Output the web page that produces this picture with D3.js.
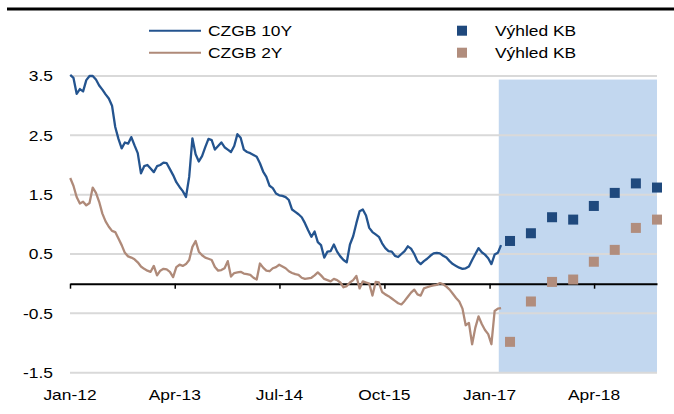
<!DOCTYPE html>
<html>
<head>
<meta charset="utf-8">
<script src="https://cdn.jsdelivr.net/npm/d3@7/dist/d3.min.js"></script>
<style>
  html, body { margin: 0; padding: 0; background: #ffffff; }
  svg { display: block; font-family: "Liberation Sans", Arial, sans-serif; }
</style>
</head>
<body>
<svg id="chart" width="674" height="414"></svg>
<script>
// ---------------- DATA ----------------
const seriesNames = ["CZGB 10Y", "CZGB 2Y"];
const forecastNames = ["Výhled KB", "Výhled KB"];
const seriesStart = "2012-01-02";   // first observation, fortnightly steps
const seriesStepDays = 14;

const czgb10y = [
  3.52, 3.47, 3.20, 3.28, 3.24, 3.43, 3.50, 3.50, 3.44, 3.34,
  3.27, 3.19, 3.12, 3.00, 2.64, 2.44, 2.28, 2.38, 2.36, 2.47,
  2.33, 2.20, 1.86, 1.98, 2.00, 1.94, 1.88, 1.98, 2.00, 2.04,
  2.03, 1.93, 1.83, 1.71, 1.63, 1.56, 1.46, 1.80, 2.45, 2.18,
  2.06, 2.15, 2.30, 2.44, 2.42, 2.26, 2.32, 2.38, 2.30, 2.26,
  2.22, 2.32, 2.52, 2.46, 2.26, 2.22, 2.20, 2.17, 2.14, 2.03,
  1.89, 1.80, 1.65, 1.61, 1.52, 1.49, 1.48, 1.46, 1.41, 1.25,
  1.21, 1.17, 1.12, 1.02, 0.90, 0.79, 0.88, 0.70, 0.65, 0.44,
  0.54, 0.55, 0.66, 0.54, 0.46, 0.40, 0.36, 0.66, 0.80, 1.02,
  1.22, 1.25, 1.15, 0.94, 0.87, 0.83, 0.79, 0.68, 0.60, 0.55,
  0.54, 0.47, 0.45, 0.50, 0.55, 0.63, 0.59, 0.50, 0.38, 0.33,
  0.38, 0.42, 0.47, 0.51, 0.52, 0.51, 0.47, 0.44, 0.38, 0.33,
  0.30, 0.27, 0.25, 0.26, 0.29, 0.40, 0.50, 0.60, 0.53, 0.49,
  0.43, 0.33, 0.49, 0.52, 0.65
];

const czgb2y = [
  1.78, 1.65, 1.46, 1.35, 1.38, 1.32, 1.36, 1.62, 1.53, 1.38,
  1.18, 1.05, 0.96, 0.89, 0.87, 0.76, 0.65, 0.52, 0.46, 0.44,
  0.41, 0.36, 0.29, 0.25, 0.22, 0.20, 0.30, 0.14, 0.22, 0.25,
  0.24, 0.20, 0.11, 0.28, 0.32, 0.30, 0.33, 0.40, 0.62, 0.72,
  0.54, 0.48, 0.44, 0.42, 0.40, 0.28, 0.22, 0.23, 0.26, 0.38,
  0.12, 0.18, 0.19, 0.20, 0.17, 0.16, 0.15, 0.10, 0.07, 0.34,
  0.27, 0.22, 0.21, 0.26, 0.28, 0.32, 0.29, 0.26, 0.21, 0.18,
  0.16, 0.15, 0.10, 0.08, 0.09, 0.10, 0.14, 0.19, 0.14, 0.08,
  0.06, 0.04, 0.08, 0.06, 0.02, -0.06, -0.04, 0.02, 0.06, 0.13,
  -0.08, 0.04, 0.02, 0.00, -0.20, 0.03, 0.02, -0.14, -0.18, -0.21,
  -0.25, -0.29, -0.33, -0.35, -0.29, -0.22, -0.15, -0.10, -0.18, -0.20,
  -0.08, -0.06, -0.04, -0.03, -0.02, 0.01, -0.01, -0.05, -0.10, -0.17,
  -0.24, -0.30, -0.42, -0.70, -0.66, -1.02, -0.74, -0.55, -0.68, -0.78,
  -0.85, -1.02, -0.46, -0.42, -0.41
];

const forecastDates = ["2017-03-31", "2017-06-30", "2017-09-30", "2017-12-31",
                       "2018-03-31", "2018-06-30", "2018-09-30", "2018-12-31"];
const forecast10y = [0.72, 0.85, 1.12, 1.08, 1.31, 1.53, 1.69, 1.62];
const forecast2y  = [-0.98, -0.30, 0.03, 0.07, 0.37, 0.57, 0.94, 1.08];

const forecastPeriod = ["2017-02-10", "2018-12-31"];
const forecastBandValues = [-1.5, 3.44];

const yTicks = [-1.5, -0.5, 0.5, 1.5, 2.5, 3.5];
const yTickLabels = ["-1.5", "-0.5", "0.5", "1.5", "2.5", "3.5"];
const xTickDates = ["2012-01-01", "2013-04-01", "2014-07-01", "2015-10-01", "2017-01-01", "2018-04-01"];
const xTickLabels = ["Jan-12", "Apr-13", "Jul-14", "Oct-15", "Jan-17", "Apr-18"];
const xDomain = ["2012-01-01", "2018-12-31"];

// ---------------- STYLE ----------------
const C10 = "#24548F";
const C2 = "#AF8A79";
const SQ10 = "#1F497D";
const SQ2 = "#B18D7D";
const SHADE = "#C2D7EF";
const GRID = "#D9D9D9";
const FS = 15;        // font size
const STRETCH = 1.16; // horizontal stretch of the original picture's text

const parse = d3.utcParse("%Y-%m-%d");
const svg = d3.select("#chart");

const plot = { left: 70, right: 657, top: 76, bottom: 372.7 };

const x = d3.scaleUtc().domain(xDomain.map(parse)).range([plot.left, plot.right]);
const y = d3.scaleLinear().domain([-1.5, 3.5]).range([plot.bottom, plot.top]);

const start = parse(seriesStart);
const toSeries = arr => arr.map((v, i) => ({ date: d3.utcDay.offset(start, i * seriesStepDays), value: v }));
const s10 = toSeries(czgb10y);
const s2 = toSeries(czgb2y);

function label(parent, px, py, str, anchor) {
  parent.append("text")
    .attr("transform", `translate(${px},${py}) scale(${STRETCH},1)`)
    .attr("dy", "0.36em")
    .attr("text-anchor", anchor)
    .attr("font-size", FS).attr("fill", "#000")
    .text(str);
}

// top rule
svg.append("rect").attr("x", 7).attr("y", 7.5).attr("width", 667).attr("height", 3).attr("fill", "#000");

// forecast shading
svg.append("rect")
  .attr("x", x(parse(forecastPeriod[0])))
  .attr("y", y(forecastBandValues[1]))
  .attr("width", x(parse(forecastPeriod[1])) - x(parse(forecastPeriod[0])))
  .attr("height", y(forecastBandValues[0]) - y(forecastBandValues[1]))
  .attr("fill", SHADE);

// gridlines
svg.append("g").selectAll("line").data(yTicks).join("line")
  .attr("x1", plot.left).attr("x2", plot.right)
  .attr("y1", d => y(d)).attr("y2", d => y(d))
  .attr("stroke", GRID).attr("stroke-width", 2);

// y labels
const gy = svg.append("g");
yTicks.forEach((d, i) => label(gy, 53, y(d), yTickLabels[i], "end"));

// zero axis with ticks
const xAxis = d3.axisBottom(x).tickValues(xTickDates.map(parse)).tickSize(5).tickSizeOuter(0).tickFormat("");
const ax = svg.append("g").attr("transform", `translate(0,${y(0)})`).call(xAxis);
ax.select(".domain").attr("stroke", "#000").attr("stroke-width", 2);
ax.selectAll(".tick line").attr("stroke", "#000").attr("stroke-width", 1.5);

// x labels at bottom
const gx = svg.append("g");
xTickDates.forEach((d, i) => label(gx, x(parse(d)), 394.5, xTickLabels[i], "middle"));

// lines
const line = d3.line().x(d => x(d.date)).y(d => y(d.value)).curve(d3.curveLinear);
svg.append("path").datum(s2).attr("d", line).attr("fill", "none")
  .attr("stroke", C2).attr("stroke-width", 2.3).attr("stroke-linejoin", "round");
svg.append("path").datum(s10).attr("d", line).attr("fill", "none")
  .attr("stroke", C10).attr("stroke-width", 2.3).attr("stroke-linejoin", "round");

// forecast squares
const SQ = 10;
const fc = (vals, color) => svg.append("g").selectAll("rect")
  .data(vals.map((v, i) => ({ date: parse(forecastDates[i]), value: v }))).join("rect")
  .attr("x", d => x(d.date) - SQ / 2).attr("y", d => y(d.value) - SQ / 2)
  .attr("width", SQ).attr("height", SQ).attr("fill", color);
fc(forecast10y, SQ10);
fc(forecast2y, SQ2);

// legend
const leg = svg.append("g");
const legRows = [30.7, 52.7];
[C10, C2].forEach((c, i) => {
  leg.append("line").attr("x1", 149).attr("x2", 201).attr("y1", legRows[i]).attr("y2", legRows[i])
    .attr("stroke", c).attr("stroke-width", 2);
  label(leg, 208, legRows[i], seriesNames[i], "start");
});
[SQ10, SQ2].forEach((c, i) => {
  leg.append("rect").attr("x", 457).attr("y", legRows[i] - 5).attr("width", 10).attr("height", 10).attr("fill", c);
  label(leg, 495, legRows[i], forecastNames[i], "start");
});
</script>
</body>
</html>
